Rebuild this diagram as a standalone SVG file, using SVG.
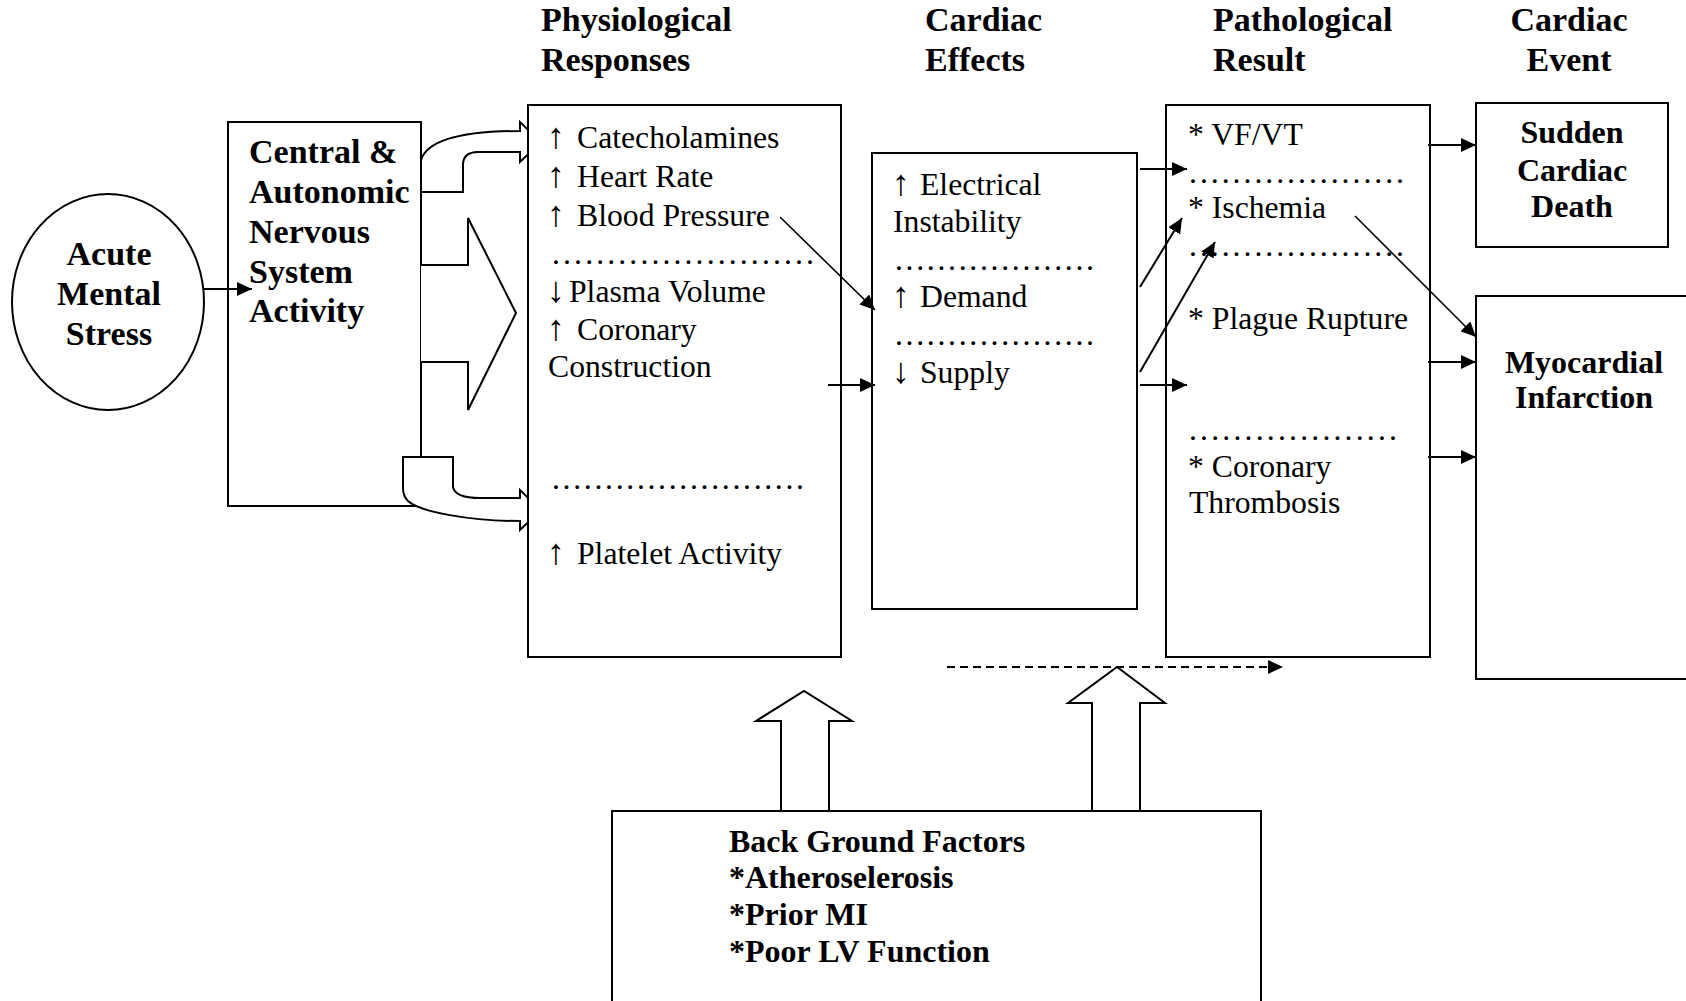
<svg xmlns="http://www.w3.org/2000/svg" width="1686" height="1001" viewBox="0 0 1686 1001">
<style>
.box{fill:#fff;stroke:#000;stroke-width:2}
.blk{fill:#fff;stroke:#000;stroke-width:2;stroke-linejoin:miter}
.ln{fill:none;stroke:#000;stroke-width:2}
.thin{fill:none;stroke:#000;stroke-width:1.6}
.b34{font-family:"Liberation Serif","Times New Roman",serif;font-weight:bold;font-size:34px;fill:#000}
.b32{font-family:"Liberation Serif","Times New Roman",serif;font-weight:bold;font-size:32px;fill:#000}
.r{font-family:"Liberation Serif","Times New Roman",serif;font-size:31.7px;fill:#000}
.ar{font-family:"Liberation Serif","Times New Roman",serif;font-size:36px;fill:#000}
.c{text-anchor:middle}
</style>
<defs>
<marker id="ah" markerUnits="userSpaceOnUse" markerWidth="16" markerHeight="14" refX="15" refY="7" orient="auto">
<path d="M0,0 L15,7 L0,14 Z" fill="#000"/>
</marker>
</defs>
<rect width="1686" height="1001" fill="#fff"/>

<g id="headers">
<text class="b34" x="541" y="31">Physiological</text>
<text class="b34" x="541" y="71">Responses</text>
<text class="b34" x="925" y="31">Cardiac</text>
<text class="b34" x="925" y="71">Effects</text>
<text class="b34" x="1213" y="31">Pathological</text>
<text class="b34" x="1213" y="71">Result</text>
<text class="b34 c" x="1569" y="31">Cardiac</text>
<text class="b34 c" x="1569" y="71">Event</text>
</g>

<g id="stress">
<ellipse class="box" cx="108" cy="302" rx="96" ry="108"/>
<text class="b34 c" x="109" y="265">Acute</text>
<text class="b34 c" x="109" y="305">Mental</text>
<text class="b34 c" x="109" y="345">Stress</text>
</g>

<g id="cans">
<rect class="box" x="228" y="122" width="193" height="384"/>
<text class="b34" x="249" y="163">Central &amp;</text>
<text class="b34" x="249" y="203">Autonomic</text>
<text class="b34" x="249" y="243">Nervous</text>
<text class="b34" x="249" y="283">System</text>
<text class="b34" x="249" y="322">Activity</text>
</g>

<g id="block-arrows">
<path class="blk" d="M421,192 L463,192 L463,165 Q463,152 478,152 L520,152 L520,162 L541,142 L520,122 L520,131 C470,131 428,138 421,160 Z"/>
<path class="blk" d="M421,265 L468,265 L468,218 L516,313 L468,410 L468,362 L421,362"/>
<path class="blk" d="M403,457 L453,457 L453,487 Q455,498 480,498 L520,498 L520,490 L541,510 L520,530 L520,521 C470,521 420,512 408,501 Q403,496 403,488 Z"/>
<path class="blk" d="M781,812 L781,721 L756,721 L804,691 L852,721 L829,721 L829,812"/>
<path class="blk" d="M1092,812 L1092,703 L1068,703 L1117,667 L1165,703 L1140,703 L1140,812"/>
</g>

<g id="physiological">
<rect class="box" x="528" y="105" width="313" height="552"/>
<text class="ar" x="547" y="148">↑</text><text class="r" x="577" y="148">Catecholamines</text>
<text class="ar" x="547" y="187">↑</text><text class="r" x="577" y="187">Heart Rate</text>
<text class="ar" x="547" y="226">↑</text><text class="r" x="577" y="226">Blood Pressure</text>
<text class="r" x="552" y="264" textLength="262" lengthAdjust="spacing">........................</text>
<text class="ar" x="547" y="302">↓</text><text class="r" x="569" y="302">Plasma Volume</text>
<text class="ar" x="547" y="340">↑</text><text class="r" x="577" y="340">Coronary</text>
<text class="r" x="548" y="377">Construction</text>
<text class="r" x="552" y="489" textLength="252" lengthAdjust="spacing">........................</text>
<text class="ar" x="547" y="564">↑</text><text class="r" x="577" y="564">Platelet Activity</text>
</g>

<g id="cardiac-effects">
<rect class="box" x="872" y="153" width="265" height="456"/>
<text class="ar" x="892" y="195">↑</text><text class="r" x="920" y="195">Electrical</text>
<text class="r" x="893" y="232">Instability</text>
<text class="r" x="895" y="270" textLength="199" lengthAdjust="spacing">...................</text>
<text class="ar" x="892" y="307">↑</text><text class="r" x="920" y="307">Demand</text>
<text class="r" x="895" y="345" textLength="199" lengthAdjust="spacing">...................</text>
<text class="ar" x="892" y="383">↓</text><text class="r" x="920" y="383">Supply</text>
</g>

<g id="pathological">
<rect class="box" x="1166" y="105" width="264" height="552"/>
<text class="r" x="1188" y="145">* VF/VT</text>
<text class="r" x="1189" y="183" textLength="215" lengthAdjust="spacing">....................</text>
<text class="r" x="1188" y="218">* Ischemia</text>
<text class="r" x="1189" y="256" textLength="215" lengthAdjust="spacing">....................</text>
<text class="r" x="1188" y="329">* Plague Rupture</text>
<text class="r" x="1189" y="440" textLength="208" lengthAdjust="spacing">...................</text>
<text class="r" x="1188" y="477">* Coronary</text>
<text class="r" x="1189" y="513">Thrombosis</text>
</g>

<g id="sudden-death">
<rect class="box" x="1476" y="103" width="192" height="144"/>
<text class="b32 c" x="1572" y="143">Sudden</text>
<text class="b32 c" x="1572" y="181">Cardiac</text>
<text class="b32 c" x="1572" y="217">Death</text>
</g>

<g id="mi">
<rect class="box" x="1476" y="296" width="240" height="383"/>
<text class="b32 c" x="1584" y="373">Myocardial</text>
<text class="b32 c" x="1584" y="408">Infarction</text>
</g>

<g id="background">
<rect class="box" x="612" y="811" width="649" height="220"/>
<text class="b32" x="729" y="852">Back Ground Factors</text>
<text class="b32" x="729" y="888">*Atheroselerosis</text>
<text class="b32" x="729" y="925">*Prior MI</text>
<text class="b32" x="729" y="962">*Poor LV Function</text>
</g>

<g id="connectors">
<line class="ln" x1="204" y1="289" x2="252" y2="289" marker-end="url(#ah)"/>
<line class="thin" x1="780" y1="217" x2="875" y2="310" marker-end="url(#ah)"/>
<line class="ln" x1="828" y1="385" x2="875" y2="385" marker-end="url(#ah)"/>
<line class="ln" x1="1140" y1="169" x2="1187" y2="169" marker-end="url(#ah)"/>
<line class="ln" x1="1140" y1="287" x2="1182" y2="218" marker-end="url(#ah)"/>
<line class="ln" x1="1140" y1="372" x2="1215" y2="242" marker-end="url(#ah)"/>
<line class="ln" x1="1140" y1="385" x2="1187" y2="385" marker-end="url(#ah)"/>
<line class="ln" x1="1428" y1="145" x2="1476" y2="145" marker-end="url(#ah)"/>
<line class="thin" x1="1355" y1="216" x2="1476" y2="337" marker-end="url(#ah)"/>
<line class="ln" x1="1428" y1="362" x2="1476" y2="362" marker-end="url(#ah)"/>
<line class="ln" x1="1428" y1="457" x2="1476" y2="457" marker-end="url(#ah)"/>
<line class="ln" x1="947" y1="667" x2="1283" y2="667" stroke-dasharray="8,5" marker-end="url(#ah)"/>
</g>
</svg>
